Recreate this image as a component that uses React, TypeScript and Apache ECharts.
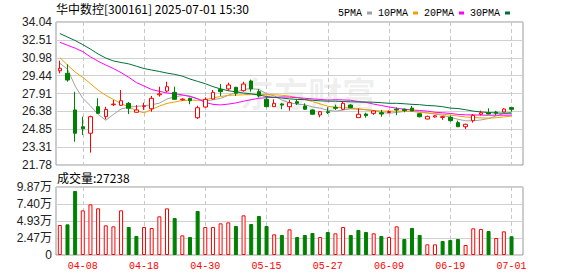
import React, { useEffect, useRef } from 'react';
import * as echarts from 'echarts';

const STOCK_NAME = '华中数控';
const STOCK_CODE = '300161';
const TIMESTAMP = '2025-07-01 15:30';
const VOLUME_LABEL = '成交量';
const WATERMARK = '东方财富';

const DATES = [
  '04-02', '04-03', '04-07', '04-08', '04-09', '04-10', '04-11', '04-14', '04-15', '04-16',
  '04-17', '04-18', '04-21', '04-22', '04-23', '04-24', '04-25', '04-28', '04-29', '04-30',
  '05-06', '05-07', '05-08', '05-09', '05-12', '05-13', '05-14', '05-15', '05-16', '05-19',
  '05-20', '05-21', '05-22', '05-23', '05-26', '05-27', '05-28', '05-29', '05-30', '06-03',
  '06-04', '06-05', '06-06', '06-09', '06-10', '06-11', '06-12', '06-13', '06-16', '06-17',
  '06-18', '06-19', '06-20', '06-23', '06-24', '06-25', '06-26', '06-27', '06-30', '07-01',
];

const OPEN = [
  29.86, 29.64, 26.50, 25.06, 24.50, 26.78, 25.92, 26.95, 26.90, 27.07,
  26.30, 26.80, 26.60, 27.80, 28.12, 28.01, 27.37, 27.50, 25.83, 26.75,
  27.44, 28.27, 28.30, 28.44, 28.15, 28.98, 28.07, 27.41, 26.78, 27.01,
  26.78, 27.21, 26.84, 26.50, 26.07, 26.35, 26.73, 26.56, 26.92, 25.84,
  26.15, 26.21, 26.26, 26.28, 26.56, 26.56, 26.66, 26.18, 25.72, 25.90,
  25.86, 25.87, 25.41, 25.06, 25.58, 26.13, 26.26, 26.32, 26.32, 26.70,
];
const CLOSE = [
  30.07, 29.07, 24.50, 24.89, 25.92, 26.21, 26.55, 27.00, 27.29, 26.64,
  26.50, 26.84, 27.50, 27.88, 28.49, 27.41, 27.43, 27.29, 26.69, 27.41,
  28.01, 28.07, 28.64, 27.93, 28.72, 28.30, 27.70, 26.78, 27.07, 26.92,
  27.12, 27.07, 26.56, 26.13, 26.35, 26.28, 26.64, 27.07, 26.69, 26.13,
  26.01, 26.41, 26.15, 26.36, 26.50, 26.45, 26.42, 25.92, 25.95, 26.00,
  25.92, 25.58, 25.06, 25.27, 26.04, 26.26, 26.15, 26.22, 26.58, 26.55,
];
const LOW = [
  29.64, 28.92, 23.78, 24.35, 22.84, 26.15, 25.70, 26.84, 26.84, 26.15,
  26.28, 26.50, 26.35, 27.64, 28.01, 27.38, 27.29, 26.99, 25.72, 26.69,
  27.40, 27.70, 28.15, 27.70, 28.07, 28.07, 27.58, 26.73, 26.75, 26.56,
  26.44, 26.92, 26.50, 26.10, 25.87, 26.15, 26.50, 26.50, 26.65, 25.84,
  25.84, 26.07, 25.92, 26.25, 26.05, 26.30, 26.40, 25.86, 25.70, 25.84,
  25.65, 25.50, 25.04, 24.87, 25.41, 26.03, 26.12, 26.07, 26.30, 26.35,
];
const HIGH = [
  30.72, 30.41, 28.06, 25.92, 26.01, 27.50, 26.78, 27.35, 28.21, 27.18,
  26.92, 27.12, 27.70, 28.49, 28.92, 28.49, 27.50, 27.55, 26.86, 27.58,
  28.21, 28.72, 28.84, 28.49, 28.92, 29.10, 28.27, 27.64, 27.41, 27.10,
  27.35, 27.41, 27.07, 26.55, 26.41, 26.73, 26.95, 27.21, 27.00, 26.64,
  26.26, 26.45, 26.50, 26.45, 26.72, 26.62, 26.84, 26.22, 26.00, 26.05,
  25.98, 26.00, 25.58, 25.32, 26.15, 26.44, 26.64, 26.42, 26.64, 26.75,
];

const VOLUMES = [
  43520, 44510, 92860, 64790, 73480, 67750, 43060, 41580, 64830, 40610,
  27560, 40650, 39170, 56120, 67700, 53680, 28530, 26110, 63870, 40620,
  40640, 45960, 47390, 42070, 57570, 44990, 56580, 42090, 29980, 29010,
  37250, 26130, 29030, 31910, 26110, 33390, 31430, 40620, 29010, 36290,
  33370, 31450, 27580, 26100, 41590, 23230, 39170, 29030, 15490, 15470,
  20330, 21760, 23210, 14520, 38690, 37740, 34820, 24680, 34350, 27238,
];

const MA5 = [
  30.50, 30.00, 28.55, 27.50, 26.85, 26.12, 25.62, 26.12, 26.58, 26.74,
  26.80, 26.86, 26.95, 27.08, 27.44, 27.62, 27.74, 27.70, 27.46, 27.25,
  27.37, 27.49, 27.76, 28.01, 28.27, 28.33, 28.26, 27.89, 27.71, 27.35,
  27.12, 26.99, 26.95, 26.76, 26.65, 26.48, 26.39, 26.49, 26.61, 26.56,
  26.51, 26.46, 26.28, 26.21, 26.29, 26.37, 26.38, 26.33, 26.25, 26.15,
  26.04, 25.87, 25.70, 25.57, 25.57, 25.64, 25.76, 25.99, 26.20, 26.30,
];
const MA10 = [
  31.00, 30.35, 29.75, 29.30, 28.75, 28.20, 27.75, 27.40, 27.05, 26.76,
  26.44, 26.25, 26.54, 26.83, 27.06, 27.18, 27.30, 27.35, 27.32, 27.38,
  27.54, 27.65, 27.75, 27.78, 27.80, 27.85, 27.86, 27.80, 27.80, 27.76,
  27.68, 27.57, 27.40, 27.22, 27.02, 26.82, 26.72, 26.70, 26.66, 26.60,
  26.52, 26.45, 26.41, 26.40, 26.40, 26.40, 26.38, 26.30, 26.24, 26.18,
  26.14, 26.06, 25.98, 25.90, 25.85, 25.82, 25.80, 25.83, 25.90, 25.97,
];
const MA20 = [
  32.30, 32.05, 31.80, 31.50, 31.05, 30.68, 30.35, 30.05, 29.70, 29.30,
  28.85, 28.55, 28.25, 28.10, 27.95, 27.88, 27.80, 27.65, 27.45, 27.15,
  26.98, 26.93, 27.00, 27.10, 27.25, 27.38, 27.50, 27.55, 27.58, 27.62,
  27.60, 27.55, 27.50, 27.45, 27.40, 27.35, 27.38, 27.36, 27.33, 27.22,
  27.15, 27.00, 26.88, 26.75, 26.65, 26.56, 26.50, 26.45, 26.40, 26.30,
  26.26, 26.20, 26.12, 26.08, 26.07, 26.06, 26.05, 26.05, 26.05, 26.06,
];
const MA30 = [
  33.05, 32.75, 32.45, 32.10, 31.72, 31.30, 30.95, 30.70, 30.57, 30.45,
  30.25, 30.05, 29.92, 29.80, 29.66, 29.55, 29.40, 29.15, 28.95, 28.75,
  28.50, 28.30, 28.15, 28.05, 27.95, 27.88, 27.78, 27.65, 27.58, 27.52,
  27.45, 27.40, 27.38, 27.33, 27.28, 27.25, 27.25, 27.22, 27.20, 27.18,
  27.18, 27.16, 27.12, 27.07, 27.07, 27.03, 26.98, 26.95, 26.88, 26.85,
  26.78, 26.66, 26.62, 26.52, 26.40, 26.33, 26.28, 26.24, 26.22, 26.22,
];

const PRICE_MIN = 21.78;
const PRICE_MAX = 34.04;
const PRICE_TICKS = ['21.78', '23.31', '24.85', '26.38', '27.91', '29.44', '30.98', '32.51', '34.04'];
const VOL_MAX = 98680;
const VOL_TICKS = ['0', '2.47万', '4.93万', '7.40万', '9.87万'];
const MA_NAMES = ['5PMA', '10PMA', '20PMA', '30PMA'];

const RED = '#ff0000';
const GREEN = '#008000';
const MA_COLORS = ['#a0a0a0', '#f0a000', '#ff00ff', '#00703a'];
const LABEL_FONT = '"Liberation Sans", "Noto Sans CJK SC", sans-serif';
const CJK_FONT = '"Noto Sans CJK SC", sans-serif';

export default function App() {
  const ref = useRef<HTMLDivElement>(null);

  useEffect(() => {
    if (!ref.current) return;
    const chart = echarts.init(ref.current, undefined, { renderer: 'svg' });

    const categories = [...DATES, ''];
    const kData = DATES.map((_, i) => [OPEN[i], CLOSE[i], LOW[i], HIGH[i]]);
    const volData = VOLUMES.map((v, i) => {
      const up = i === 0 ? CLOSE[i] >= OPEN[i] : CLOSE[i] >= CLOSE[i - 1];
      return {
        value: v,
        itemStyle: up
          ? { color: '#ffffff', borderColor: RED, borderWidth: 1 }
          : { color: GREEN, borderColor: GREEN, borderWidth: 1 },
      };
    });
    const labelInterval = (idx: number) => idx >= 3 && (idx - 3) % 8 === 0;
    const vSplit = {
      show: true,
      interval: labelInterval,
      alignWithLabel: true,
      lineStyle: { color: '#c8c8c8', width: 1, type: [4, 3] },
    };
    const maSeries = [MA5, MA10, MA20, MA30].map((d, k) => ({
      type: 'line',
      name: MA_NAMES[k],
      xAxisIndex: 0,
      yAxisIndex: 0,
      data: d,
      symbol: 'none',
      smooth: false,
      z: 2,
      lineStyle: { width: 1, color: MA_COLORS[k] },
      itemStyle: { color: MA_COLORS[k] },
    }));

    chart.setOption({
      animation: false,
      backgroundColor: '#ffffff',
      legend: {
        data: MA_NAMES,
        right: 63,
        top: 3,
        align: 'right',
        icon: 'rect',
        itemWidth: 5,
        itemHeight: 3,
        itemGap: 6,
        selectedMode: false,
        textStyle: { fontSize: 10, fontFamily: '"Liberation Mono", monospace', color: '#000' },
      },
      graphic: [
        {
          type: 'text',
          x: 56,
          y: 8,
          style: {
            text: `${STOCK_NAME}[${STOCK_CODE}] ${TIMESTAMP}`,
            font: `12px ${CJK_FONT}`,
            fill: '#000',
            verticalAlign: 'middle',
          },
        },
        {
          type: 'text',
          x: 57,
          y: 177.5,
          style: {
            text: `${VOLUME_LABEL}:${VOLUMES[VOLUMES.length - 1]}`,
            font: `12px ${CJK_FONT}`,
            fill: '#000',
            verticalAlign: 'middle',
          },
        },
        {
          type: 'text',
          x: 240,
          y: 92,
          z: 0,
          style: {
            text: WATERMARK,
            font: `bold 34px ${CJK_FONT}`,
            fill: 'rgba(0,0,0,0.07)',
            verticalAlign: 'middle',
          },
        },
      ],
      grid: [
        { left: 56, right: 55, top: 22, height: 143, show: true, borderColor: '#999', borderWidth: 1 },
        { left: 56, right: 55, top: 187, height: 68, show: true, borderColor: '#999', borderWidth: 1 },
      ],
      xAxis: [
        {
          type: 'category',
          gridIndex: 0,
          data: categories,
          boundaryGap: true,
          axisLine: { show: false },
          axisTick: { show: false },
          axisLabel: { show: false },
          splitLine: vSplit,
        },
        {
          type: 'category',
          gridIndex: 1,
          data: categories,
          boundaryGap: true,
          axisLine: { show: false },
          axisTick: { show: false },
          axisLabel: {
            show: true,
            interval: labelInterval,
            color: RED,
            fontSize: 10,
            fontFamily: '"Liberation Mono", monospace',
            margin: 6,
          },
          splitLine: vSplit,
        },
      ],
      yAxis: [
        {
          type: 'value',
          gridIndex: 0,
          min: PRICE_MIN,
          max: PRICE_MAX,
          show: false,
          splitLine: { show: false },
        },
        {
          type: 'value',
          gridIndex: 0,
          position: 'left',
          min: 0,
          max: PRICE_TICKS.length - 1,
          interval: 1,
          axisLine: { show: false },
          axisTick: { show: false },
          axisLabel: {
            formatter: (v: number) => PRICE_TICKS[Math.round(v)],
            color: '#222',
            fontSize: 12,
            fontFamily: LABEL_FONT,
            margin: 4,
          },
          splitLine: { show: true, lineStyle: { color: '#d0d0d0', width: 1 } },
        },
        {
          type: 'value',
          gridIndex: 1,
          min: 0,
          max: VOL_MAX,
          interval: VOL_MAX / (VOL_TICKS.length - 1),
          axisLine: { show: false },
          axisTick: { show: false },
          axisLabel: {
            formatter: (v: number) => VOL_TICKS[Math.round(v / (VOL_MAX / (VOL_TICKS.length - 1)))],
            color: '#222',
            fontSize: 12,
            fontFamily: LABEL_FONT,
            margin: 4,
          },
          splitLine: { show: true, lineStyle: { color: '#d0d0d0', width: 1 } },
        },
      ],
      series: [
        ...maSeries,
        {
          type: 'candlestick',
          name: 'K',
          xAxisIndex: 0,
          yAxisIndex: 0,
          data: kData,
          barWidth: 4,
          z: 3,
          itemStyle: {
            color: '#ffffff',
            color0: GREEN,
            borderColor: RED,
            borderColor0: GREEN,
            borderWidth: 1,
          },
        },
        {
          type: 'bar',
          name: 'VOL',
          xAxisIndex: 1,
          yAxisIndex: 2,
          data: volData,
          barWidth: 4,
        },
      ],
    });

    return () => chart.dispose();
  }, []);

  return (
    <div
      ref={ref}
      style={{ position: 'fixed', left: 0, top: 0, width: 578, height: 276, background: '#fff' }}
    />
  );
}
